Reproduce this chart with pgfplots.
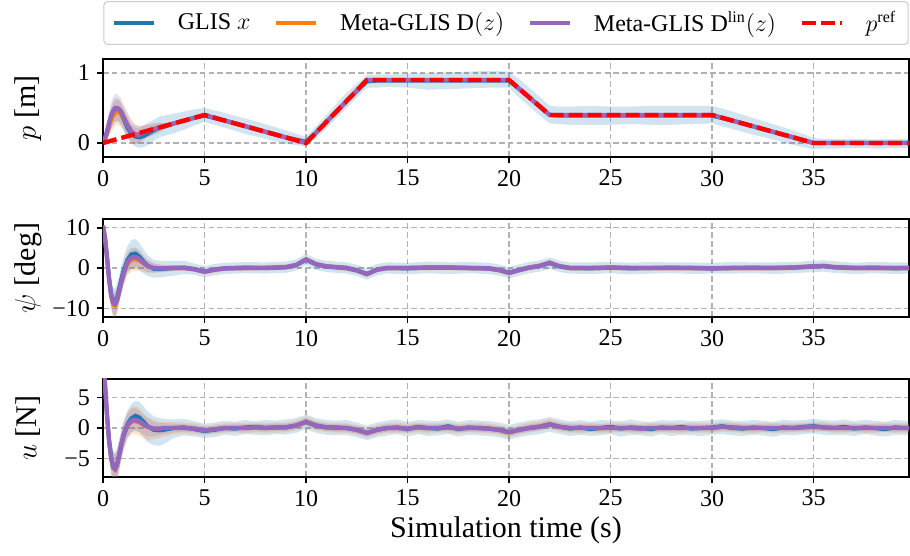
\documentclass[border=0pt]{standalone}
\usepackage{amsmath}
\usepackage{pgfplots}
\pgfplotsset{compat=1.18}
\usepackage{pgfplotstable}
\usepgfplotslibrary{fillbetween}
\usepackage{fontspec}
\setmainfont{Liberation Serif}

\definecolor{tabblue}{HTML}{1F77B4}
\definecolor{taborange}{HTML}{FF7F0E}
\definecolor{tabpurple}{HTML}{9467BD}

% position: t, GLIS mean/lo/hi, Meta D mean/lo/hi, Meta Dlin mean/lo/hi
\pgfplotstableread{
t b bl bh o ol oh m ml mh
0.0 0.00 -0.02 0.02 0.00 -0.02 0.02 0.00 -0.02 0.02
0.1 0.06 0.00 0.12 0.05 0.01 0.10 0.07 0.02 0.12
0.2 0.15 0.05 0.25 0.12 0.05 0.20 0.17 0.07 0.27
0.3 0.26 0.13 0.39 0.22 0.10 0.34 0.29 0.13 0.44
0.4 0.36 0.20 0.52 0.31 0.15 0.47 0.39 0.20 0.58
0.5 0.43 0.26 0.60 0.38 0.20 0.56 0.46 0.26 0.66
0.6 0.47 0.30 0.64 0.42 0.24 0.60 0.50 0.30 0.70
0.7 0.48 0.32 0.64 0.44 0.26 0.62 0.50 0.31 0.70
0.8 0.46 0.30 0.62 0.43 0.25 0.61 0.48 0.29 0.67
0.9 0.41 0.26 0.56 0.40 0.22 0.58 0.44 0.25 0.63
1.0 0.35 0.20 0.50 0.35 0.17 0.53 0.38 0.20 0.56
1.2 0.22 0.08 0.36 0.24 0.06 0.42 0.26 0.08 0.44
1.4 0.13 0.00 0.26 0.16 0.00 0.32 0.16 0.00 0.32
1.6 0.09 -0.05 0.22 0.12 -0.02 0.26 0.12 -0.02 0.26
1.8 0.08 -0.07 0.22 0.13 0.00 0.24 0.12 0.00 0.24
2.0 0.10 -0.06 0.25 0.15 0.04 0.25 0.15 0.05 0.25
2.2 0.13 -0.03 0.29 0.17 0.08 0.26 0.17 0.08 0.26
2.5 0.18 0.03 0.33 0.20 0.12 0.28 0.20 0.12 0.28
2.8 0.22 0.08 0.38 0.224 0.15 0.29 0.224 0.16 0.29
3.0 0.23 0.10 0.39 0.24 0.20 0.28 0.24 0.20 0.28
3.5 0.28 0.14 0.42 0.28 0.26 0.30 0.28 0.26 0.30
4.0 0.32 0.19 0.45 0.32 0.30 0.34 0.32 0.30 0.34
4.5 0.36 0.25 0.48 0.36 0.34 0.38 0.36 0.34 0.38
5.0 0.39 0.30 0.50 0.40 0.38 0.42 0.40 0.38 0.42
6.0 0.32 0.22 0.43 0.32 0.30 0.34 0.32 0.30 0.34
7.0 0.24 0.13 0.35 0.24 0.22 0.26 0.24 0.22 0.26
8.0 0.16 0.06 0.27 0.16 0.14 0.18 0.16 0.14 0.18
9.0 0.08 -0.01 0.18 0.08 0.06 0.10 0.08 0.06 0.10
10.0 0.02 -0.05 0.09 0.00 -0.02 0.02 0.00 -0.02 0.02
10.5 0.15 0.07 0.24 0.15 0.13 0.17 0.15 0.13 0.17
11.0 0.30 0.21 0.40 0.30 0.28 0.32 0.30 0.28 0.32
12.0 0.60 0.50 0.72 0.60 0.58 0.62 0.60 0.58 0.62
13.0 0.88 0.79 0.97 0.90 0.88 0.92 0.90 0.88 0.92
13.5 0.89 0.79 0.98 0.90 0.88 0.92 0.90 0.88 0.92
14.0 0.89 0.80 0.98 0.90 0.88 0.92 0.90 0.88 0.92
15.0 0.89 0.79 0.99 0.90 0.88 0.92 0.90 0.88 0.92
16.0 0.89 0.76 1.00 0.90 0.88 0.92 0.90 0.88 0.92
17.0 0.89 0.77 1.01 0.90 0.88 0.92 0.90 0.88 0.92
18.0 0.89 0.78 1.02 0.90 0.88 0.92 0.90 0.88 0.92
19.0 0.89 0.79 1.03 0.90 0.88 0.92 0.90 0.88 0.92
20.0 0.89 0.79 1.02 0.90 0.88 0.92 0.90 0.88 0.92
20.5 0.77 0.65 0.91 0.775 0.755 0.795 0.775 0.755 0.795
21.0 0.65 0.52 0.79 0.65 0.63 0.67 0.65 0.63 0.67
22.0 0.40 0.28 0.53 0.40 0.38 0.42 0.40 0.38 0.42
22.5 0.39 0.27 0.52 0.40 0.38 0.42 0.40 0.38 0.42
23.0 0.39 0.26 0.52 0.40 0.38 0.42 0.40 0.38 0.42
24.0 0.39 0.26 0.53 0.40 0.38 0.42 0.40 0.38 0.42
25.0 0.39 0.26 0.52 0.40 0.38 0.42 0.40 0.38 0.42
26.0 0.39 0.27 0.52 0.40 0.38 0.42 0.40 0.38 0.42
27.0 0.39 0.26 0.53 0.40 0.38 0.42 0.40 0.38 0.42
28.0 0.39 0.26 0.53 0.40 0.38 0.42 0.40 0.38 0.42
29.0 0.39 0.27 0.53 0.40 0.38 0.42 0.40 0.38 0.42
30.0 0.39 0.28 0.53 0.40 0.38 0.42 0.40 0.38 0.42
31.0 0.32 0.20 0.45 0.32 0.30 0.34 0.32 0.30 0.34
32.0 0.24 0.12 0.36 0.24 0.22 0.26 0.24 0.22 0.26
33.0 0.16 0.05 0.27 0.16 0.14 0.18 0.16 0.14 0.18
34.0 0.08 -0.03 0.18 0.08 0.06 0.10 0.08 0.06 0.10
35.0 0.00 -0.09 0.07 0.00 -0.02 0.02 0.00 -0.02 0.02
35.5 0.00 -0.08 0.06 0.00 -0.02 0.02 0.00 -0.02 0.02
36.0 0.00 -0.08 0.06 0.00 -0.02 0.02 0.00 -0.02 0.02
37.0 0.00 -0.07 0.06 0.00 -0.02 0.02 0.00 -0.02 0.02
38.0 0.00 -0.08 0.05 0.00 -0.02 0.02 0.00 -0.02 0.02
39.0 0.00 -0.07 0.06 0.00 -0.02 0.02 0.00 -0.02 0.02
39.7 0.00 -0.07 0.06 0.00 -0.02 0.02 0.00 -0.02 0.02
}\tabp

% heading angle psi [deg]
\pgfplotstableread{
t b bl bh o ol oh m ml mh
0.0 10.5 10.0 11.0 10.5 10.0 11.0 10.5 10.0 11.0
0.1 7.5 6.0 9.0 7.2 5.9 8.5 7.5 6.2 8.8
0.2 2.5 0.3 4.7 2.0 0.0 4.0 2.5 0.5 4.5
0.3 -2.5 -5.3 0.3 -3.5 -6.0 -1.0 -2.8 -5.3 -0.3
0.4 -6.5 -9.7 -3.3 -7.5 -10.3 -4.7 -6.8 -9.6 -4.0
0.5 -8.3 -11.7 -4.9 -9.3 -12.3 -6.3 -8.6 -11.6 -5.6
0.6 -8.5 -12.0 -5.0 -9.5 -12.5 -6.5 -8.9 -11.9 -5.9
0.7 -7.2 -10.6 -3.8 -8.3 -11.3 -5.3 -7.8 -10.8 -4.8
0.8 -5.0 -8.3 -1.7 -6.2 -9.0 -3.4 -5.8 -8.6 -3.0
0.9 -2.8 -6.1 0.5 -4.0 -6.7 -1.3 -3.6 -6.3 -0.9
1.0 -0.8 -4.1 2.5 -2.0 -4.6 0.6 -1.6 -4.2 1.0
1.2 2.0 -1.4 5.4 0.8 -1.8 3.4 1.5 -1.0 4.0
1.4 3.4 -0.2 7.0 1.9 -0.9 4.7 2.6 0.1 5.1
1.6 3.6 0.0 7.2 2.1 -0.7 4.9 2.7 0.3 5.1
1.8 2.8 -0.6 6.2 1.7 -0.8 4.2 2.2 0.0 4.4
2.0 1.6 -1.4 4.6 1.0 -1.0 3.0 1.3 -0.5 3.1
2.2 0.6 -2.0 3.2 0.4 -1.2 2.0 0.5 -1.0 2.0
2.5 -0.2 -2.4 2.0 0.0 -1.2 1.2 0.0 -1.1 1.1
2.8 -0.3 -2.4 1.8 -0.1 -1.1 0.9 -0.1 -1.0 0.8
3.0 -0.2 -2.2 1.8 -0.1 -1.0 0.8 -0.1 -0.9 0.7
3.5 0.0 -1.9 1.7 0.0 -0.8 0.8 0.0 -0.7 0.7
4.0 0.1 -1.5 1.8 0.0 -0.7 0.7 0.0 -0.6 0.6
4.5 -0.3 -1.7 1.1 -0.3 -1.0 0.4 -0.3 -0.9 0.3
5.0 -0.9 -2.3 0.5 -1.0 -1.7 -0.3 -0.9 -1.5 -0.3
5.5 -0.4 -1.8 1.0 -0.5 -1.2 0.2 -0.4 -1.0 0.2
6.0 -0.1 -1.5 1.3 -0.1 -0.8 0.6 -0.1 -0.7 0.5
7.0 0.1 -1.3 1.5 0.0 -0.7 0.7 0.0 -0.6 0.6
8.0 0.0 -1.4 1.4 0.1 -0.6 0.8 0.0 -0.6 0.6
9.0 0.2 -1.2 1.6 0.2 -0.5 0.9 0.2 -0.4 0.8
9.5 0.7 -0.7 2.1 0.7 0.0 1.4 0.7 0.1 1.3
10.0 2.1 0.7 3.5 2.2 1.5 2.9 2.1 1.5 2.7
10.5 0.9 -0.5 2.3 1.0 0.3 1.7 0.9 0.3 1.5
11.0 0.4 -1.0 1.8 0.4 -0.3 1.1 0.4 -0.2 1.0
12.0 0.0 -1.4 1.4 -0.1 -0.8 0.6 0.0 -0.6 0.6
12.5 -0.6 -2.0 0.8 -0.6 -1.3 0.1 -0.6 -1.2 0.0
13.0 -1.5 -2.9 -0.1 -1.6 -2.3 -0.9 -1.5 -2.1 -0.9
13.5 -0.4 -1.8 1.0 -0.4 -1.1 0.3 -0.4 -1.0 0.2
14.0 0.0 -1.4 1.4 0.0 -0.7 0.7 0.0 -0.6 0.6
15.0 -0.1 -1.6 1.3 0.0 -0.7 0.7 0.0 -0.6 0.6
16.0 0.1 -1.3 1.6 0.1 -0.6 0.8 0.1 -0.5 0.7
17.0 0.1 -1.5 1.4 0.1 -0.6 0.8 0.1 -0.5 0.7
18.0 0.0 -1.3 1.5 0.0 -0.7 0.7 0.0 -0.6 0.6
19.0 -0.1 -1.5 1.3 -0.1 -0.8 0.6 -0.1 -0.7 0.5
19.5 -0.5 -1.9 0.9 -0.5 -1.2 0.2 -0.5 -1.1 0.1
20.0 -1.2 -2.6 0.2 -1.3 -2.0 -0.6 -1.2 -1.8 -0.6
20.5 -0.5 -1.9 0.9 -0.5 -1.2 0.2 -0.5 -1.1 0.1
21.0 0.1 -1.3 1.5 0.1 -0.6 0.8 0.1 -0.5 0.7
21.5 0.5 -0.9 1.9 0.6 -0.1 1.3 0.5 -0.1 1.1
22.0 1.2 -0.2 2.6 1.4 0.7 2.1 1.3 0.7 1.9
22.5 0.4 -1.0 1.8 0.4 -0.3 1.1 0.4 -0.2 1.0
23.0 0.0 -1.4 1.4 0.0 -0.7 0.7 0.0 -0.6 0.6
24.0 -0.1 -1.5 1.4 0.0 -0.7 0.7 0.0 -0.6 0.6
25.0 0.1 -1.3 1.5 0.1 -0.6 0.8 0.1 -0.5 0.7
26.0 -0.1 -1.6 1.3 0.0 -0.7 0.7 0.0 -0.6 0.6
27.0 0.0 -1.4 1.5 0.0 -0.7 0.7 0.0 -0.6 0.6
28.0 0.1 -1.3 1.4 0.0 -0.7 0.7 0.0 -0.6 0.6
29.0 0.0 -1.5 1.4 0.0 -0.7 0.7 0.0 -0.6 0.6
30.0 -0.1 -1.4 1.3 -0.1 -0.8 0.6 -0.1 -0.7 0.5
31.0 0.0 -1.4 1.5 0.0 -0.7 0.7 0.0 -0.6 0.6
32.0 0.1 -1.3 1.4 0.0 -0.7 0.7 0.0 -0.6 0.6
33.0 0.0 -1.5 1.4 0.0 -0.7 0.7 0.0 -0.6 0.6
34.0 0.1 -1.3 1.5 0.1 -0.6 0.8 0.1 -0.5 0.7
35.0 0.4 -1.0 1.8 0.4 -0.3 1.1 0.4 -0.2 1.0
35.5 0.5 -0.9 1.9 0.5 -0.2 1.2 0.5 -0.1 1.1
36.0 0.2 -1.2 1.7 0.2 -0.5 0.9 0.2 -0.4 0.8
37.0 0.0 -1.5 1.3 0.0 -0.7 0.7 0.0 -0.6 0.6
38.0 0.1 -1.3 1.5 0.0 -0.7 0.7 0.0 -0.6 0.6
39.0 -0.1 -1.5 1.4 0.0 -0.7 0.7 0.0 -0.6 0.6
39.7 0.0 -1.4 1.4 0.0 -0.7 0.7 0.0 -0.6 0.6
}\tabpsi

% input u [N]
\pgfplotstableread{
t b bl bh o ol oh m ml mh
0.0 14.0 13.0 15.0 14.0 13.0 15.0 14.0 13.0 15.0
0.1 7.0 5.5 8.5 6.8 5.3 8.3 7.0 5.6 8.4
0.2 2.0 0.0 4.0 1.7 -0.3 3.7 2.0 0.2 3.8
0.3 -2.0 -4.3 0.3 -2.4 -4.6 -0.2 -2.1 -4.2 0.0
0.4 -4.8 -7.3 -2.3 -5.2 -7.6 -2.8 -4.9 -7.2 -2.6
0.5 -6.3 -8.9 -3.7 -6.6 -9.1 -4.1 -6.4 -8.8 -4.0
0.6 -6.6 -9.2 -4.0 -6.9 -9.4 -4.4 -6.7 -9.1 -4.3
0.7 -5.8 -8.4 -3.2 -6.1 -8.6 -3.6 -5.9 -8.3 -3.5
0.8 -4.3 -6.8 -1.8 -4.6 -7.0 -2.2 -4.4 -6.7 -2.1
0.9 -2.7 -5.1 -0.3 -3.0 -5.3 -0.7 -2.8 -5.0 -0.6
1.0 -1.3 -3.6 1.0 -1.6 -3.8 0.6 -1.4 -3.5 0.7
1.2 0.6 -1.6 2.8 0.2 -1.9 2.4 0.4 -1.5 2.4
1.4 1.6 -0.6 3.9 1.0 -1.0 3.4 1.2 -0.7 3.2
1.6 2.0 -0.3 4.4 1.0 -1.0 3.6 1.3 -0.5 3.2
1.8 1.7 -0.7 4.3 0.8 -1.3 3.2 1.1 -0.7 2.8
2.0 1.0 -1.5 3.5 0.4 -1.7 2.4 0.6 -1.1 2.1
2.2 0.3 -2.3 2.7 0.1 -2.0 1.8 0.2 -1.4 1.6
2.5 -0.3 -2.8 1.9 -0.1 -1.8 1.3 -0.1 -1.3 1.0
2.8 -0.4 -2.9 1.6 -0.1 -1.6 1.1 -0.1 -1.1 0.8
3.0 -0.3 -2.6 1.5 0.0 -1.4 1.0 0.0 -1.0 0.8
3.5 0.0 -1.6 1.4 0.1 -1.0 1.0 0.0 -0.7 0.7
4.0 0.1 -1.2 1.5 0.0 -0.9 0.9 0.0 -0.6 0.6
4.5 -0.2 -1.4 1.1 -0.1 -1.0 0.8 -0.1 -0.7 0.5
5.0 -0.5 -1.6 0.7 -0.4 -1.2 0.4 -0.4 -1.0 0.2
5.5 -0.3 -1.5 0.9 -0.2 -1.0 0.6 -0.2 -0.8 0.4
6.0 0.0 -1.1 1.2 0.0 -0.8 0.8 0.0 -0.6 0.6
6.5 -0.1 -1.3 1.0 0.1 -0.7 0.9 0.0 -0.6 0.6
7.0 0.1 -1.0 1.3 0.0 -0.9 0.8 0.0 -0.6 0.6
7.5 0.2 -1.1 1.1 0.1 -0.7 0.9 0.1 -0.5 0.7
8.0 0.0 -1.2 1.3 0.0 -0.8 0.8 0.0 -0.6 0.6
8.5 0.1 -1.0 1.2 0.1 -0.8 0.9 0.1 -0.5 0.7
9.0 0.1 -1.1 1.4 0.1 -0.7 0.9 0.1 -0.5 0.7
9.5 0.4 -0.8 1.6 0.4 -0.4 1.2 0.4 -0.2 1.0
10.0 1.0 -0.2 2.2 1.1 0.3 1.9 1.0 0.4 1.6
10.5 0.4 -0.8 1.6 0.4 -0.4 1.2 0.4 -0.2 1.0
11.0 0.1 -1.1 1.3 0.1 -0.7 0.9 0.1 -0.5 0.7
11.5 0.1 -1.2 1.2 0.0 -0.8 0.8 0.0 -0.6 0.6
12.0 0.0 -1.1 1.3 0.0 -0.8 0.8 0.0 -0.6 0.6
12.5 -0.3 -1.5 0.9 -0.3 -1.1 0.5 -0.3 -0.9 0.3
13.0 -0.8 -2.0 0.4 -0.8 -1.6 0.0 -0.8 -1.4 -0.2
13.5 -0.3 -1.5 0.9 -0.3 -1.1 0.5 -0.3 -0.9 0.3
14.0 0.0 -1.2 1.2 0.0 -0.8 0.8 0.0 -0.6 0.6
14.5 0.1 -1.0 1.4 0.0 -0.8 0.9 0.0 -0.6 0.6
15.0 -0.2 -1.4 1.0 -0.1 -0.9 0.7 -0.1 -0.7 0.5
15.5 0.2 -1.0 1.3 0.1 -0.7 0.9 0.1 -0.5 0.7
16.0 0.0 -1.3 1.2 0.0 -0.9 0.8 0.0 -0.6 0.6
16.5 -0.1 -1.2 1.1 0.1 -0.7 0.8 0.0 -0.6 0.6
17.0 0.3 -1.0 1.4 0.0 -0.8 0.9 0.1 -0.5 0.7
17.5 -0.2 -1.4 1.0 -0.1 -0.9 0.7 -0.1 -0.7 0.5
18.0 0.1 -1.1 1.3 0.1 -0.7 0.8 0.0 -0.6 0.6
18.5 0.0 -1.2 1.2 0.0 -0.8 0.9 0.0 -0.6 0.6
19.0 -0.1 -1.3 1.1 -0.1 -0.9 0.7 -0.1 -0.7 0.5
19.5 -0.3 -1.5 0.9 -0.3 -1.1 0.5 -0.3 -0.9 0.3
20.0 -0.7 -1.9 0.5 -0.8 -1.6 0.0 -0.7 -1.3 -0.1
20.5 -0.3 -1.5 0.9 -0.3 -1.1 0.5 -0.3 -0.9 0.3
21.0 0.0 -1.2 1.2 0.1 -0.7 0.9 0.0 -0.6 0.6
21.5 0.2 -1.0 1.4 0.3 -0.5 1.1 0.2 -0.4 0.8
22.0 0.6 -0.6 1.8 0.7 -0.1 1.5 0.6 0.0 1.2
22.5 0.2 -1.0 1.4 0.2 -0.6 1.0 0.2 -0.4 0.8
23.0 -0.1 -1.3 1.1 0.0 -0.8 0.8 0.0 -0.6 0.6
23.5 0.1 -1.1 1.3 0.0 -0.9 0.8 0.0 -0.6 0.6
24.0 -0.2 -1.3 1.0 0.1 -0.7 0.9 0.0 -0.6 0.6
24.5 0.0 -1.2 1.3 -0.1 -0.9 0.7 0.0 -0.6 0.6
25.0 0.2 -1.0 1.2 0.0 -0.8 0.9 0.0 -0.6 0.6
25.5 -0.1 -1.4 1.1 0.1 -0.7 0.8 0.0 -0.6 0.6
26.0 0.1 -1.1 1.4 0.0 -0.8 0.8 0.0 -0.6 0.6
26.5 0.0 -1.2 1.1 -0.1 -0.9 0.7 -0.1 -0.7 0.5
27.0 -0.2 -1.4 1.0 0.0 -0.8 0.9 0.0 -0.6 0.6
27.5 0.1 -1.0 1.3 0.1 -0.7 0.8 0.0 -0.6 0.6
28.0 0.0 -1.3 1.2 0.0 -0.8 0.8 0.0 -0.6 0.6
28.5 0.2 -1.1 1.3 -0.1 -0.9 0.7 0.0 -0.6 0.6
29.0 -0.1 -1.2 1.1 0.1 -0.7 0.9 0.0 -0.6 0.6
29.5 0.0 -1.3 1.2 0.0 -0.8 0.8 0.0 -0.6 0.6
30.0 0.1 -1.1 1.3 0.0 -0.8 0.8 0.0 -0.6 0.6
30.5 0.3 -1.0 1.4 0.2 -0.6 1.0 0.2 -0.4 0.8
31.0 0.0 -1.2 1.2 0.1 -0.7 0.9 0.1 -0.5 0.7
31.5 -0.1 -1.3 1.1 0.0 -0.8 0.8 0.0 -0.6 0.6
32.0 0.1 -1.1 1.3 -0.1 -0.9 0.7 0.0 -0.6 0.6
32.5 0.0 -1.2 1.2 0.1 -0.7 0.9 0.0 -0.6 0.6
33.0 -0.2 -1.4 1.0 0.0 -0.8 0.8 0.0 -0.6 0.6
33.5 0.1 -1.1 1.3 0.0 -0.8 0.9 0.0 -0.6 0.6
34.0 0.0 -1.2 1.2 0.1 -0.7 0.8 0.0 -0.6 0.6
34.5 0.2 -1.0 1.3 0.1 -0.7 0.9 0.1 -0.5 0.7
35.0 0.3 -0.9 1.5 0.2 -0.6 1.0 0.2 -0.4 0.8
35.5 0.1 -1.1 1.3 0.2 -0.6 1.0 0.1 -0.5 0.7
36.0 0.0 -1.2 1.2 0.0 -0.8 0.8 0.0 -0.6 0.6
36.5 0.2 -1.1 1.4 0.0 -0.8 0.9 0.0 -0.6 0.6
37.0 -0.1 -1.3 1.1 0.1 -0.7 0.8 0.0 -0.6 0.6
37.5 0.1 -1.0 1.3 -0.1 -0.9 0.7 0.0 -0.6 0.6
38.0 0.0 -1.2 1.2 0.0 -0.8 0.8 0.0 -0.6 0.6
38.5 -0.2 -1.4 1.0 0.1 -0.7 0.9 0.0 -0.6 0.6
39.0 0.1 -1.1 1.3 0.0 -0.8 0.8 0.0 -0.6 0.6
39.5 0.0 -1.2 1.2 0.0 -0.8 0.8 0.0 -0.6 0.6
39.7 0.0 -1.2 1.2 0.0 -0.8 0.8 0.0 -0.6 0.6
}\tabu

\pgfplotsset{
  panel/.style={
    scale only axis, width=403pt, height=49pt,
    xmin=0, xmax=39.7,
    xtick={0,5,...,35},
    tick align=outside, tick pos=left,
    major tick length=3pt,
    every tick/.style={black, line width=0.8pt},
    axis line style={line width=0.9pt},
    grid=major,
    major grid style={color=black!30, line width=0.6pt, dash pattern=on 2.8pt off 1.6pt},
    tick label style={font=\fontsize{12}{14}\selectfont, /pgf/number format/assume math mode=true},
    every axis y label/.style={at={(axis description cs:-0.093,0.5)}, rotate=90, anchor=center,
      font=\fontsize{15}{18}\selectfont},
  },
}

% draw the three bands and the three mean lines of one table
\newcommand{\runs}[1]{%
  \addplot[name path=bl, draw=none, forget plot] table[x=t, y=bl]{#1};
  \addplot[name path=bh, draw=none, forget plot] table[x=t, y=bh]{#1};
  \addplot[fill=tabblue, fill opacity=0.2, draw=none, forget plot] fill between[of=bh and bl];
  \addplot[name path=ol, draw=none, forget plot] table[x=t, y=ol]{#1};
  \addplot[name path=oh, draw=none, forget plot] table[x=t, y=oh]{#1};
  \addplot[fill=taborange, fill opacity=0.2, draw=none, forget plot] fill between[of=oh and ol];
  \addplot[name path=ml, draw=none, forget plot] table[x=t, y=ml]{#1};
  \addplot[name path=mh, draw=none, forget plot] table[x=t, y=mh]{#1};
  \addplot[fill=tabpurple, fill opacity=0.2, draw=none, forget plot] fill between[of=mh and ml];
  \addplot[tabblue, line width=2pt, forget plot] table[x=t, y=b]{#1};
  \addplot[taborange, line width=1.6pt, forget plot] table[x=t, y=o]{#1};
  \addplot[tabpurple, line width=2.2pt, forget plot] table[x=t, y=m]{#1};
}

\begin{document}
\begin{tikzpicture}

\begin{axis}[panel, at={(51.5pt,199.5pt)}, anchor=south west,
  ymin=-0.2, ymax=1.2, ytick={0,1},
  ylabel={$p$ [m]},
  legend columns=4,
  legend cell align=left,
  legend style={at={(axis description cs:0.5,1)}, anchor=south, yshift=7pt,
    draw=black!20, line width=0.5pt, rounded corners=2pt,
    font=\fontsize{12}{14}\selectfont, inner xsep=4pt, inner ysep=3pt,
    /tikz/every odd column/.append style={column sep=9pt},
    /tikz/every even column/.append style={column sep=9.8pt}},
  legend image code/.code={\draw[#1] (0pt,0pt) -- (20pt,0pt);},
]
\runs{\tabp}
\addplot[red, line width=2.2pt, dash pattern=on 7pt off 2.5pt, forget plot]
  coordinates {(0,0) (5,0.4) (10,0) (13,0.9) (20,0.9) (22,0.4) (30,0.4) (35,0) (39.7,0)};
\addlegendimage{tabblue, line width=2pt}
\addlegendentry{GLIS $x$}
\addlegendimage{taborange, line width=2pt}
\addlegendentry{Meta-GLIS D$(z)$}
\addlegendimage{tabpurple, line width=2pt}
\addlegendentry{Meta-GLIS D$^{\text{lin}}(z)$}
\addlegendimage{red, line width=2pt, dash pattern=on 7pt off 2.5pt}
\addlegendentry{$p^{\text{ref}}$}
\end{axis}

\begin{axis}[panel, at={(51.5pt,119.5pt)}, anchor=south west,
  ymin=-12.2, ymax=12.2, ytick={-10,0,10}, yticklabels={−10,0,10},
  ylabel={$\psi$ [deg]},
]
\runs{\tabpsi}
\end{axis}

\begin{axis}[panel, at={(51.5pt,39.5pt)}, anchor=south west,
  ymin=-8, ymax=8, ytick={-5,0,5}, yticklabels={−5,0,5},
  ylabel={$u$ [N]},
  xlabel={Simulation time (s)},
  every axis x label/.style={at={(axis description cs:0.5,-0.54)}, anchor=center,
    font=\fontsize{15}{18}\selectfont},
]
\runs{\tabu}
\end{axis}

\pgfresetboundingbox
\path[use as bounding box] (0,0) rectangle (455pt,278pt);
\end{tikzpicture}
\end{document}
